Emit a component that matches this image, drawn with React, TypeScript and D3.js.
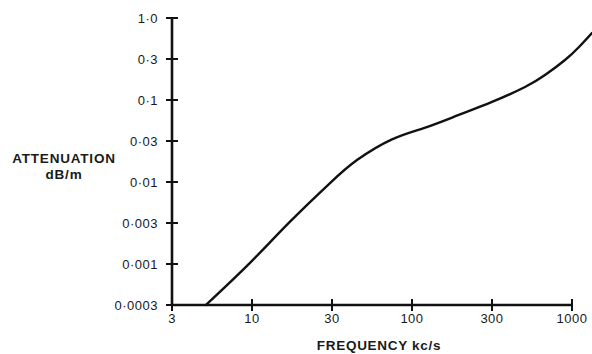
import React from 'react';
import * as d3 from 'd3';

// tick values (the original chart spaces them evenly, 1-3-10 style)
const xTicks = [3, 10, 30, 100, 300, 1000];
const xTickLabels = ['3', '10', '30', '100', '300', '1000'];
const yTicks = [1, 0.3, 0.1, 0.03, 0.01, 0.003, 0.001, 0.0003];
const yTickLabels = ['1·0', '0·3', '0·1', '0·03', '0·01', '0·003', '0·001', '0·0003'];

// attenuation curve
const freq = [5, 9.7, 16.8, 29.2, 43.7, 74, 120, 190, 300, 493, 666, 900, 1111, 1350];
const atten = [0.0003, 0.00103, 0.0031, 0.0097, 0.018, 0.0315, 0.0445, 0.0644, 0.0944, 0.1416, 0.195, 0.292, 0.427, 0.644];

const W = 592;
const H = 354;
const left = 172, right = 572, top = 18, bottom = 305;
const font = '"Liberation Sans", Arial, sans-serif';

const App = () => {
  const xStep = (right - left) / (xTicks.length - 1);
  const yStep = (bottom - top) / (yTicks.length - 1);
  const x = d3.scaleLog().domain(xTicks).range(xTicks.map((_, i) => left + i * xStep));
  const y = d3.scaleLog().domain(yTicks).range(yTicks.map((_, i) => top + i * yStep));

  const pts: [number, number][] = freq.map((f, i) => [x(f), y(atten[i])]);
  const line = d3.line().curve(d3.curveNatural)(pts) || '';

  return (
    <svg width={W} height={H} style={{ position: 'absolute', left: 0, top: 0, background: '#fff' }}>
      {/* axes */}
      <line x1={x(3)} x2={x(3)} y1={y(1)} y2={y(0.0003)} stroke="#111" strokeWidth={2.6} />
      <line x1={x(3)} x2={x(1000)} y1={y(0.0003)} y2={y(0.0003)} stroke="#111" strokeWidth={2.6} />

      {yTicks.map((t, i) => (
        <g key={'y' + i}>
          <line x1={x(3) - 6} x2={x(3) + 6} y1={y(t)} y2={y(t)} stroke="#111" strokeWidth={2} />
          <text x={x(3) - 14} y={y(t)} dy="0.35em" textAnchor="end" fontFamily={font}
            fontSize={13} letterSpacing={0.5} fill="#1a1a1a">{yTickLabels[i]}</text>
        </g>
      ))}

      {xTicks.map((t, i) => (
        <g key={'x' + i}>
          <line x1={x(t)} x2={x(t)} y1={y(0.0003) - 6} y2={y(0.0003) + 6} stroke="#111" strokeWidth={2} />
          <text x={x(t)} y={y(0.0003) + 18} textAnchor="middle" fontFamily={font}
            fontSize={13} letterSpacing={0.5} fill="#1a1a1a">{xTickLabels[i]}</text>
        </g>
      ))}

      <path d={line} fill="none" stroke="#111" strokeWidth={2.4} strokeLinecap="round" />

      {/* titles */}
      <text x={64} y={163} textAnchor="middle" fontFamily={font} fontSize={13.5} fontWeight="bold"
        letterSpacing={0.8} fill="#1a1a1a">ATTENUATION</text>
      <text x={64} y={179} textAnchor="middle" fontFamily={font} fontSize={13.5} fontWeight="bold"
        letterSpacing={0.8} fill="#1a1a1a">dB/m</text>
      <text x={379} y={350} textAnchor="middle" fontFamily={font} fontSize={13.5} fontWeight="bold"
        letterSpacing={0.7} fill="#1a1a1a">FREQUENCY kc/s</text>
    </svg>
  );
};

export default App;
